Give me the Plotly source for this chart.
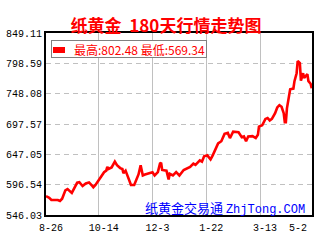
import plotly.graph_objects as go

# ---- data ----
dates = [
    "2010-08-26", "2010-08-29", "2010-08-31", "2010-09-06", "2010-09-08", "2010-09-10",
    "2010-09-13", "2010-09-15", "2010-09-19", "2010-09-21", "2010-09-24", "2010-09-26",
    "2010-09-29", "2010-10-02", "2010-10-05", "2010-10-08", "2010-10-09", "2010-10-11",
    "2010-10-14", "2010-10-16", "2010-10-19", "2010-10-21", "2010-10-22", "2010-10-23",
    "2010-10-26", "2010-10-29", "2010-10-31", "2010-11-03", "2010-11-05", "2010-11-06",
    "2010-11-08", "2010-11-10", "2010-11-12", "2010-11-13", "2010-11-16", "2010-11-18",
    "2010-11-20", "2010-11-22", "2010-11-23", "2010-11-24", "2010-11-26", "2010-11-30",
    "2010-12-03", "2010-12-05", "2010-12-08", "2010-12-10", "2010-12-11", "2010-12-12",
    "2010-12-16", "2010-12-18", "2010-12-19", "2010-12-22", "2010-12-25", "2010-12-28",
    "2011-01-01", "2011-01-07", "2011-01-10", "2011-01-12", "2011-01-16", "2011-01-18",
    "2011-01-20", "2011-01-23", "2011-01-26", "2011-01-28", "2011-01-30", "2011-02-02",
    "2011-02-05", "2011-02-08", "2011-02-11", "2011-02-13", "2011-02-16", "2011-02-19",
    "2011-02-21", "2011-02-24", "2011-02-26", "2011-02-28", "2011-03-02", "2011-03-06",
    "2011-03-09", "2011-03-11", "2011-03-12", "2011-03-15", "2011-03-18", "2011-03-20",
    "2011-03-22", "2011-03-24", "2011-03-27", "2011-03-29", "2011-03-31", "2011-04-02",
    "2011-04-04", "2011-04-05", "2011-04-06", "2011-04-07", "2011-04-09", "2011-04-10",
    "2011-04-13", "2011-04-14", "2011-04-16", "2011-04-17", "2011-04-19", "2011-04-20",
    "2011-04-22", "2011-04-23", "2011-04-26", "2011-04-27", "2011-04-29", "2011-04-30",
]
prices = [
    577.45, 574.74, 571.07, 571.07, 569.34, 573.14,
    587.02, 589.09, 582.71, 590.69, 599.78, 600.74,
    594.36, 598.66, 600.26, 594.36, 592.28, 595.95,
    603.93, 607.76, 617.33, 619.88, 626.26, 622.59,
    625.30, 634.87, 628.97, 624.19, 622.59, 615.73,
    619.88, 610.31, 601.38, 595.95, 595.95, 606.64,
    613.50, 628.97, 622.59, 611.90, 613.50, 615.73,
    617.33, 611.90, 617.33, 631.68, 633.28, 621.00,
    619.88, 605.04, 614.62, 611.90, 617.33, 611.90,
    621.00, 626.26, 631.68, 629.45, 636.95, 634.87,
    643.81, 645.40, 638.54, 645.40, 654.50, 665.18,
    668.85, 681.14, 682.73, 674.12, 684.80, 684.80,
    683.69, 675.71, 676.83, 668.85, 676.83, 677.31,
    674.12, 679.54, 693.26, 695.49, 706.02, 707.62,
    703.47, 706.02, 715.59, 725.16, 728.99, 726.28,
    715.59, 700.76, 700.76, 723.57, 747.50, 755.47,
    756.59, 768.87, 782.11, 802.48, 799.06, 769.83,
    782.11, 774.14, 780.52, 768.87, 764.56, 757.07,
]
y_ticks = [546.03, 596.54, 647.05, 697.57, 748.08, 798.59, 849.11]
x_tick_dates = ["2010-08-26", "2010-10-14", "2010-12-03", "2011-01-22", "2011-03-13"]
x_tick_labels = ["8-26", "10-14", "12-3", "1-22", "3-13"]
end_tick_label = "5-2"
x_range = ["2010-08-26", "2011-04-30 07:12"]

title_text = "纸黄金  180天行情走势图"
watermark = ("纸黄金交易通 <span style='font-family:Liberation Mono;font-size:12px'>"
             "ZhjTong.COM</span>")

# ---- figure ----
fig = go.Figure()
fig.add_trace(go.Scatter(
    x=dates, y=prices, mode="lines",
    line=dict(color="#ff0000", width=2.6),
    showlegend=False, hoverinfo="skip",
))
fig.add_trace(go.Scatter(x=[], y=[], xaxis="x2", showlegend=False))

tick_font = dict(family="Liberation Mono, DejaVu Sans Mono, monospace", size=10, color="#000000")

fig.update_layout(
    width=320, height=240,
    margin=dict(l=43, r=6, t=33, b=17),
    paper_bgcolor="#ffffff", plot_bgcolor="#ffffff",
    title=dict(
        text=f"<b>{title_text}</b>",
        x=166 / 320, xref="container", xanchor="center",
        y=1 - 26 / 240, yref="container", yanchor="middle",
        font=dict(family="Noto Sans CJK SC", size=17, color="#ff0000"),
    ),
    xaxis=dict(
        type="date", range=x_range,
        tickmode="array", tickvals=x_tick_dates, ticktext=x_tick_labels,
        ticklabelshift=5, ticklabelstandoff=2,
        showgrid=True, gridcolor="#c0c0c0", gridwidth=1,
        showline=True, linecolor="#000000", linewidth=2, mirror=True,
        zeroline=False, ticks="", tickfont=tick_font,
    ),
    xaxis2=dict(
        type="date", range=x_range, overlaying="x", anchor="y", side="bottom",
        tickmode="array", tickvals=[x_range[1]], ticktext=[end_tick_label],
        ticklabelshift=-14, ticklabelstandoff=2,
        showgrid=False, showline=True, linecolor="#000000", linewidth=2,
        zeroline=False, ticks="", tickfont=tick_font,
    ),
    yaxis=dict(
        range=[y_ticks[0], y_ticks[-1]],
        tickmode="array", tickvals=y_ticks,
        ticktext=[f"{v:.2f}" for v in y_ticks],
        showgrid=True, gridcolor="#c0c0c0", gridwidth=1, griddash="5px,4px",
        showline=True, linecolor="#000000", linewidth=2, mirror=True,
        zeroline=False, ticks="", tickfont=tick_font,
    ),
)

x0, w, y_bottom, h = 43, 271, 223, 190

def px(xp):
    return (xp - x0) / w

def py(yp):
    return (y_bottom - yp) / h

hi, lo = max(prices), min(prices)
fig.add_annotation(
    xref="paper", yref="paper", x=px(47.7), y=py(40), xanchor="left", yanchor="top",
    text=f"最高:{hi:.2f} 最低:{lo:.2f}", showarrow=False, align="right",
    width=152, height=14, bgcolor="#ffffff", bordercolor="#808080",
    borderwidth=1, borderpad=1,
    font=dict(family="Noto Sans CJK SC", size=12, color="#ff0000"),
)
fig.add_annotation(
    xref="paper", yref="paper", x=px(55.9), y=py(50.3), xanchor="center", yanchor="middle",
    text=" ", showarrow=False, width=12, height=6, bgcolor="#ff0000",
    borderwidth=0, borderpad=0, font=dict(size=1),
)
fig.add_annotation(
    xref="paper", yref="paper", x=px(308.5), y=py(215), xanchor="right", yanchor="middle",
    text=watermark, showarrow=False,
    font=dict(family="Noto Sans CJK SC", size=13, color="#0000ff"),
)

fig.write_html("out.html")
